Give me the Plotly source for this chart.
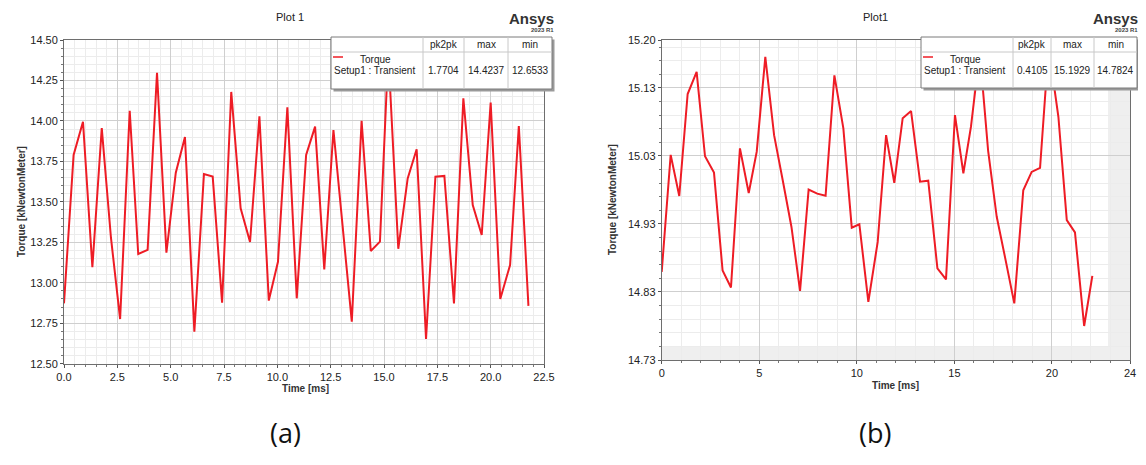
import plotly.graph_objects as go

# ---------------- data ----------------
time_a = [0.0, 0.45, 0.89, 1.33, 1.77, 2.2, 2.63, 3.08, 3.48, 3.92, 4.36, 4.80, 5.24, 5.67,
          6.11, 6.56, 6.97, 7.41, 7.84, 8.28, 8.72, 9.16, 9.60, 10.03, 10.47, 10.91, 11.35,
          11.77, 12.2, 12.63, 13.06, 13.49, 13.95, 14.38, 14.81, 15.2, 15.67, 16.11, 16.53,
          16.97, 17.41, 17.83, 18.28, 18.72, 19.16, 19.58, 20.0, 20.45, 20.91, 21.32, 21.77]
torque_a = [12.873, 13.79, 13.995, 13.096, 13.956, 13.28, 12.776, 14.063, 13.178, 13.203,
            14.298, 13.186, 13.68, 13.90, 12.698, 13.672, 13.656, 12.877, 14.179, 13.46,
            13.252, 14.028, 12.89, 13.13, 14.084, 12.904, 13.79, 13.965, 13.083, 13.944,
            13.35, 12.76, 14.0, 13.196, 13.254, 14.4237, 13.21, 13.645, 13.825, 12.6533,
            13.655, 13.66, 12.873, 14.14, 13.48, 13.295, 14.113, 12.90, 13.11, 13.969, 12.857]

time_b = [0.0, 0.46, 0.9, 1.33, 1.79, 2.22, 2.68, 3.12, 3.55, 4.01, 4.46, 4.87, 5.31, 5.76,
          6.2, 6.65, 7.09, 7.53, 7.97, 8.4, 8.85, 9.31, 9.74, 10.13, 10.59, 11.07, 11.5,
          11.92, 12.35, 12.78, 13.24, 13.66, 14.13, 14.57, 15.03, 15.46, 15.85, 16.3, 16.73,
          17.17, 17.62, 18.07, 18.53, 18.96, 19.39, 19.83, 20.33, 20.76, 21.18, 21.65, 22.07]
torque_b = [14.862, 15.034, 14.9735, 15.1235, 15.156, 15.032, 15.008, 14.864, 14.839, 15.0436,
            14.978, 15.0387, 15.178, 15.063, 14.997, 14.928, 14.834, 14.983, 14.977, 14.974,
            15.151, 15.073, 14.927, 14.932, 14.818, 14.906, 15.063, 14.993, 15.088, 15.0985,
            14.9945, 14.996, 14.867, 14.851, 15.0926, 15.007, 15.0755, 15.185, 15.04, 14.943,
            14.88, 14.8157, 14.982, 15.009, 15.015, 15.1929, 15.09, 14.938, 14.92, 14.7824, 14.856]

ytick_vals_b = [14.7324, 14.8324, 14.9324, 15.0324, 15.1324, 15.2029]
ytick_text_b = ["14.73", "14.83", "14.93", "15.03", "15.13", "15.20"]
xtick_vals_b = [0, 5, 10, 15, 20, 24]

stats_a = ["1.7704", "14.4237", "12.6533"]
stats_b = ["0.4105", "15.1929", "14.7824"]
stat_headers = ["pk2pk", "max", "min"]

# ---------------- layout helpers ----------------
# the page body has an 8px default margin, so the figure is sized to fit inside it
PAGE_W, PAGE_H, BODY_M = 1146, 465, 8
W, H = PAGE_W - 2 * BODY_M, PAGE_H - 2 * BODY_M
def px(x):
    return (x - BODY_M) / W
def py(y):
    return 1 - (y - BODY_M) / H

RED = "#ee1c25"
FONT = "Liberation Sans"
TXT = "#222222"

fig = go.Figure()
fig.add_trace(go.Scatter(x=time_a, y=torque_a, mode="lines", line=dict(color=RED, width=2),
                         xaxis="x", yaxis="y", showlegend=False, hoverinfo="skip"))
fig.add_trace(go.Scatter(x=time_b, y=torque_b, mode="lines", line=dict(color=RED, width=2),
                         xaxis="x2", yaxis="y2", showlegend=False, hoverinfo="skip"))

axis_common = dict(showline=True, mirror=True, linecolor="#6e6e6e", linewidth=1,
                   ticks="outside", ticklen=3, tickcolor="#555", zeroline=False,
                   showgrid=True, gridcolor="#cfcfcf", gridwidth=1, automargin=False,
                   tickfont=dict(family=FONT, size=11, color=TXT))

fig.update_layout(
    width=W, height=H, margin=dict(l=0, r=0, t=0, b=0, autoexpand=False),
    paper_bgcolor="white", plot_bgcolor="white",
    xaxis=dict(domain=[px(64), px(544)], range=[0, 22.5], dtick=2.5, tickformat=".1f",
               anchor="y",
               minor=dict(dtick=0.5, showgrid=True, gridcolor="#ececec", ticks="outside",
                          ticklen=2, tickcolor="#777"),
               **axis_common),
    yaxis=dict(domain=[py(363.7), py(40)], range=[12.5, 14.5], dtick=0.25, tickformat=".2f",
               anchor="x",
               minor=dict(dtick=0.05, showgrid=True, gridcolor="#ececec", ticks="outside",
                          ticklen=2, tickcolor="#777"),
               **axis_common),
    xaxis2=dict(domain=[px(661.7), px(1130)], range=[0, 24], tickmode="array",
                tickvals=xtick_vals_b, anchor="y2",
                minor=dict(tickmode="array", tickvals=list(range(0, 25)), showgrid=True,
                           gridcolor="#ececec", ticks="outside", ticklen=2, tickcolor="#777"),
                **axis_common),
    yaxis2=dict(domain=[py(360), py(40)], range=[14.7324, 15.2029], tickmode="array",
                tickvals=ytick_vals_b, ticktext=ytick_text_b, anchor="x2",
                minor=dict(tickmode="array",
                           tickvals=[14.7324 + 0.02 * k for k in range(24)],
                           showgrid=True, gridcolor="#ececec", ticks="outside", ticklen=2,
                           tickcolor="#777"),
                **axis_common),
)

shapes = []
# shaded out-of-range bands on plot (b)
shapes.append(dict(type="rect", xref="x2", yref="paper", x0=22.87, x1=24,
                   y0=py(360), y1=py(40), fillcolor="#efefef", line=dict(width=0), layer="below"))
shapes.append(dict(type="rect", xref="paper", yref="y2", x0=px(661.7), x1=px(1130),
                   y0=14.7324, y1=14.753, fillcolor="#efefef", line=dict(width=0), layer="below"))

annotations = []

def add_stats_box(x0, x1, y0, y1, seps, header_x, stats):
    # shadow
    shapes.append(dict(type="rect", xref="paper", yref="paper",
                       x0=px(x0 + 2.5), x1=px(x1 + 2.5), y0=py(y1 + 2.5), y1=py(y0 + 2.5),
                       fillcolor="#9a9a9a", line=dict(width=0), layer="above"))
    shapes.append(dict(type="rect", xref="paper", yref="paper",
                       x0=px(x0), x1=px(x1), y0=py(y1), y1=py(y0),
                       fillcolor="white", line=dict(color="#7a7a7a", width=1), layer="above"))
    # header separator
    shapes.append(dict(type="line", xref="paper", yref="paper",
                       x0=px(x0), x1=px(x1), y0=py(y0 + 15), y1=py(y0 + 15),
                       line=dict(color="#c8c8c8", width=1), layer="above"))
    for s in seps:
        shapes.append(dict(type="line", xref="paper", yref="paper",
                           x0=px(s), x1=px(s), y0=py(y1), y1=py(y0),
                           line=dict(color="#c8c8c8", width=1), layer="above"))
    # legend line sample
    shapes.append(dict(type="line", xref="paper", yref="paper",
                       x0=px(x0 + 2), x1=px(x0 + 12), y0=py(y0 + 20), y1=py(y0 + 20),
                       line=dict(color=RED, width=1.5), layer="above"))
    f = dict(family=FONT, size=10, color=TXT)
    annotations.append(dict(x=px(x0 + 27), y=py(y0 + 23), xref="paper", yref="paper",
                            text="Torque", showarrow=False, xanchor="left", yanchor="middle", font=f))
    annotations.append(dict(x=px(x0 + 1), y=py(y0 + 34), xref="paper", yref="paper",
                            text="Setup1 : Transient", showarrow=False, xanchor="left",
                            yanchor="middle", font=f))
    for hx, h, v in zip(header_x, stat_headers, stats):
        annotations.append(dict(x=px(hx), y=py(y0 + 8), xref="paper", yref="paper", text=h,
                                showarrow=False, xanchor="center", yanchor="middle", font=f))
        annotations.append(dict(x=px(hx), y=py(y0 + 34), xref="paper", yref="paper", text=v,
                                showarrow=False, xanchor="center", yanchor="middle", font=f))

add_stats_box(331, 552, 37, 89, [423, 464, 508], [443.5, 486, 530], stats_a)
add_stats_box(921, 1137, 37, 88, [1013, 1051, 1094], [1032, 1072.5, 1115.5], stats_b)

def text(x, y, s, size, anchor="center", bold=False, angle=0, family=FONT, color=TXT):
    annotations.append(dict(x=px(x), y=py(y), xref="paper", yref="paper",
                            text=f"<b>{s}</b>" if bold else s, showarrow=False,
                            xanchor=anchor, yanchor="middle", textangle=angle,
                            font=dict(family=family, size=size, color=color)))

# titles / branding
text(290, 17, "Plot 1", 11)
text(875, 17, "Plot1", 11)
text(556, 18, "Ansys", 15, anchor="right", bold=True, color="#333")
text(556, 30, "2023 R1", 6, anchor="right", bold=True, color="#444")
text(1140, 18, "Ansys", 15, anchor="right", bold=True, color="#333")
text(1140, 30, "2023 R1", 6, anchor="right", bold=True, color="#444")

# axis titles
text(305, 388, "Time [ms]", 10, bold=True, color="#333")
text(895, 385, "Time [ms]", 10, bold=True, color="#333")
text(21, 202, "Torque [kNewtonMeter]", 10, bold=True, angle=-90, color="#333")
text(613, 200, "Torque [kNewtonMeter]", 10, bold=True, angle=-90, color="#333")

# captions
text(285, 432, "(a)", 27, family="Open Sans", color="#111")
text(875, 432, "(b)", 27, family="Open Sans", color="#111")

fig.update_layout(shapes=shapes, annotations=annotations)
fig.write_html("out.html")
